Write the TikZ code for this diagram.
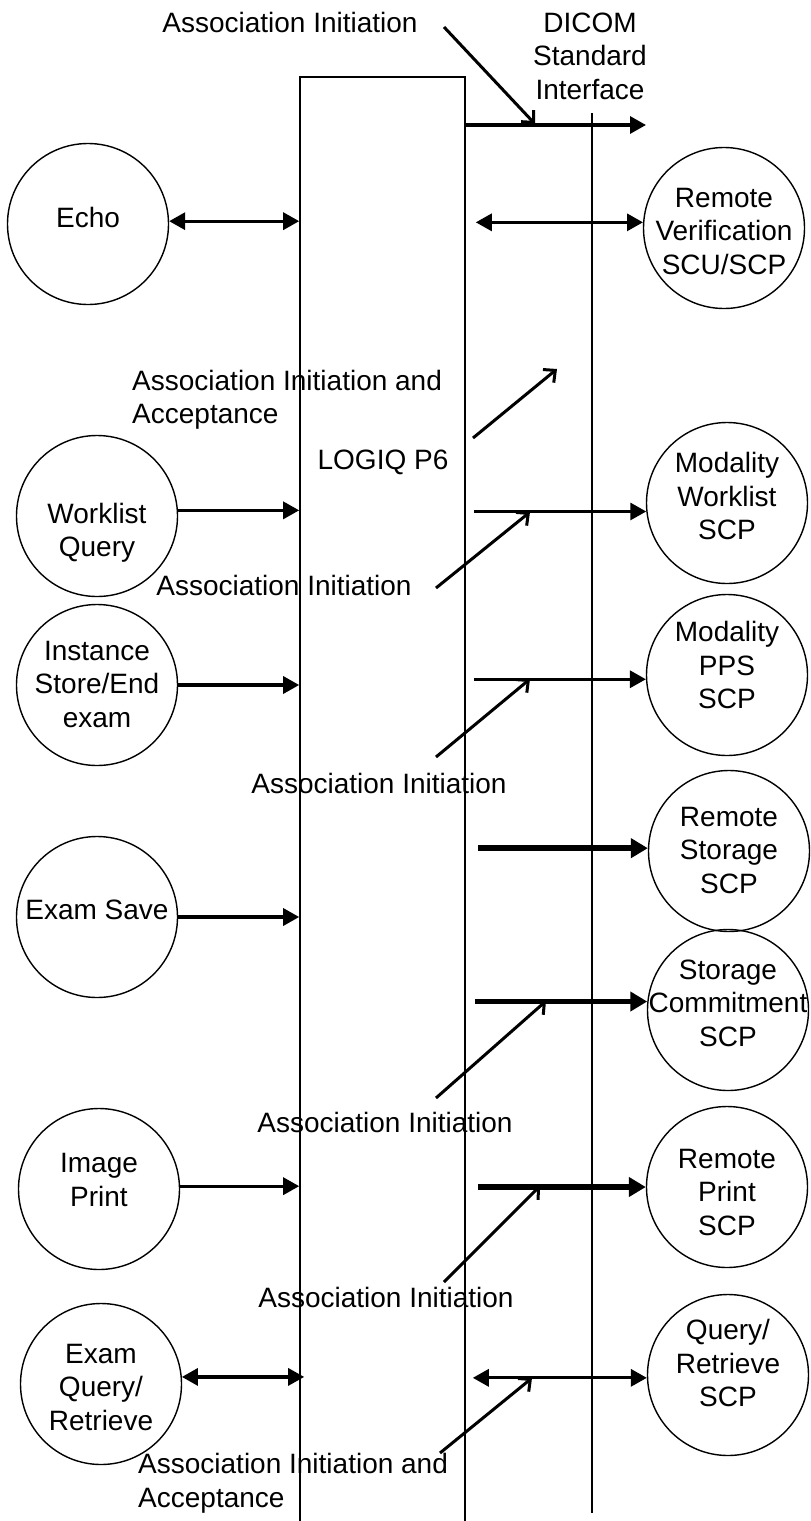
\documentclass[tikz,border=0pt]{standalone}
\usepackage{fontspec}
\setmainfont{Liberation Sans}
\usetikzlibrary{arrows.meta}
\begin{document}
\begin{tikzpicture}[x=1pt,y=-1pt,
		font=\fontsize{28}{33.5}\selectfont,
		flow/.style={line width=3.2pt,-{Triangle[length=16pt,width=17pt]}},
		both/.style={line width=3.2pt,{Triangle[length=16pt,width=17pt]}-{Triangle[length=16pt,width=17pt]}},
		heavy/.style={line width=5.5pt,-{Triangle[length=17pt,width=19pt]}},
		pointer/.style={line width=3pt,-{Straight Barb[length=9pt,width=17pt]}},
		rule/.style={line width=1.6pt}]
			\useasboundingbox (0,0) rectangle (811,1521);
			\clip (0,0) rectangle (811,1521);
			
			% application entity box and interface line
			\node[draw,rule,minimum width=165pt,minimum height=1460pt,anchor=north] (logiq) at (382.5,76) {};
			\coordinate (dtop) at (592,113);
			\coordinate (dbot) at (592,1513);
			\path (dtop) edge[rule] (dbot);
			
			\begin{scope}[every node/.style={circle,draw,line width=1.4pt,minimum size=161pt,inner sep=0pt}]
				\node (echo) at (88,224) {};
				\node (wlq) at (97,516) {};
				\node (inst) at (97,685) {};
				\node (save) at (97,917) {};
				\node (iprint) at (99,1189) {};
				\node (eqr) at (101,1384) {};
				
				\node (rver) at (724,228) {};
				\node (mwl) at (727,503) {};
				\node (mpps) at (727,675) {};
				\node (rstor) at (729,851) {};
				\node (scmt) at (728,1010) {};
				\node (rprint) at (727,1187) {};
				\node (qr) at (728,1375) {};
			\end{scope}
			
			\begin{scope}[every node/.style={inner sep=0pt,align=center}]
				\node (echo-txt) at (88,217) {Echo};
				\node (wlq-txt) at (97,533) {Worklist\\Query};
				\node (inst-txt) at (97,684) {Instance\\Store/End\\exam};
				\node (save-txt) at (97,910) {Exam Save};
				\node (iprint-txt) at (99,1180) {Image\\Print};
				\node (eqr-txt) at (101,1387) {Exam\\Query/\\Retrieve};
				
				\node (rver-txt) at (724,231) {Remote\\Verification\\SCU/SCP};
				\node (mwl-txt) at (727,496) {Modality\\Worklist\\SCP};
				\node (mpps-txt) at (727,665) {Modality\\PPS\\SCP};
				\node (rstor-txt) at (729,850) {Remote\\Storage\\SCP};
				\node (scmt-txt) at (728,1003) {Storage\\Commitment\\SCP};
				\node (rprint-txt) at (727,1192) {Remote\\Print\\SCP};
				\node (qr-txt) at (728,1363) {Query/\\Retrieve\\SCP};
			\end{scope}
			
			\begin{scope}[every node/.style={inner sep=0pt}]
				\node (logiqlbl) at (383,462) {LOGIQ P6};
				\node[align=center] (dicom) at (590,56) {DICOM\\Standard\\Interface};
				\node (ai1) at (290,22) {Association Initiation};
				\node[align=left,anchor=west] (aia1) at (132,400) {Association Initiation and\\Acceptance};
				\node (ai2) at (284,585) {Association Initiation};
				\node (ai3) at (379,783) {Association Initiation};
				\node (ai4) at (385,1122) {Association Initiation};
				\node (ai5) at (386,1297) {Association Initiation};
				\node[align=left,anchor=west] (aia2) at (138,1483) {Association Initiation and\\Acceptance};
			\end{scope}
			
			% free ends of the pointers
			\coordinate (ifc) at (646,125);
			\coordinate (p1s) at (444,27);
			\coordinate (p1e) at (535,124);
			\coordinate (p2s) at (473,438);
			\coordinate (p2e) at (557,369);
			\coordinate (p3s) at (436,588);
			\coordinate (p3e) at (530,512);
			\coordinate (p4s) at (436,757);
			\coordinate (p4e) at (530,679);
			\coordinate (p5s) at (436,1098);
			\coordinate (p5e) at (546,1001);
			\coordinate (p6s) at (444,1282);
			\coordinate (p6e) at (540,1186);
			\coordinate (p7s) at (440,1453);
			\coordinate (p7e) at (532,1378);
			
			\begin{scope}
				\path (logiq.east |- ifc) edge[flow] (ifc);
				
				\path (echo.2) edge[both] (echo.2 -| logiq.west);
				\path (wlq.4) edge[flow] (wlq.4 -| logiq.west);
				\path (inst.east) edge[flow] (inst.east -| logiq.west);
				\path (save.east) edge[flow] (save.east -| logiq.west);
				\path (iprint.2) edge[flow] (iprint.2 -| logiq.west);
				\path (eqr.5) edge[both] ([xshift=5pt]eqr.5 -| logiq.west);
				
				\path (logiq.east |- rver.176) edge[both,shorten <=10pt] (rver.176);
				\path (logiq.east |- mwl.186) edge[flow,shorten <=8pt] (mwl.186);
				\path (logiq.east |- mpps.183) edge[flow,shorten <=8pt] (mpps.183);
				\path (logiq.east |- rstor.178) edge[heavy,shorten <=12pt] (rstor.178);
				\path (logiq.east |- scmt.174) edge[heavy,shorten <=9pt] (scmt.174);
				\path (logiq.east |- rprint.west) edge[heavy,shorten <=12pt] (rprint.west);
				\path (logiq.east |- qr.182) edge[both,shorten <=7pt] (qr.182);
			\end{scope}
			
			\begin{scope}
				\path (p1s) edge[pointer] (p1e);
				\path (p2s) edge[pointer] (p2e);
				\path (p3s) edge[pointer] (p3e);
				\path (p4s) edge[pointer] (p4e);
				\path (p5s) edge[pointer] (p5e);
				\path (p6s) edge[pointer] (p6e);
				\path (p7s) edge[pointer] (p7e);
			\end{scope}
		\end{tikzpicture}
\end{document}
